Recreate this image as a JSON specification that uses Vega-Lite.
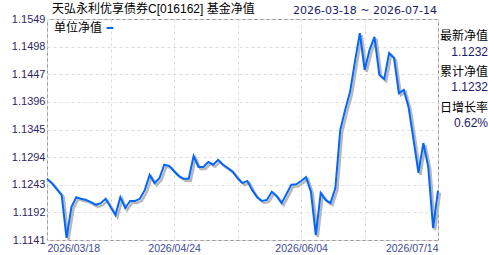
{
  "$schema": "https://vega.github.io/schema/vega-lite/v6.json",
  "background": "white",
  "padding": {"left": 10, "top": 2, "right": 1, "bottom": 0},
  "autosize": {"type": "pad"},
  "spacing": 3,
  "bounds": "flush",
  "config": {"font": "Liberation Sans", "view": {"stroke": "#999"}},
  "datasets": {
    "nav": [
      {"d": "2026/03/18", "v": 1.1254}, {"d": "2026/03/19", "v": 1.1246}, {"d": "2026/03/20", "v": 1.1235},
      {"d": "2026/03/23", "v": 1.1224}, {"d": "2026/03/24", "v": 1.1145}, {"d": "2026/03/25", "v": 1.1202},
      {"d": "2026/03/26", "v": 1.1220}, {"d": "2026/03/27", "v": 1.1217}, {"d": "2026/03/30", "v": 1.1215},
      {"d": "2026/03/31", "v": 1.1211}, {"d": "2026/04/01", "v": 1.1206}, {"d": "2026/04/02", "v": 1.1209},
      {"d": "2026/04/03", "v": 1.1217}, {"d": "2026/04/07", "v": 1.1202}, {"d": "2026/04/08", "v": 1.1187},
      {"d": "2026/04/09", "v": 1.1220}, {"d": "2026/04/10", "v": 1.1200}, {"d": "2026/04/13", "v": 1.1213},
      {"d": "2026/04/14", "v": 1.1213}, {"d": "2026/04/15", "v": 1.1217}, {"d": "2026/04/16", "v": 1.1233},
      {"d": "2026/04/17", "v": 1.1261}, {"d": "2026/04/20", "v": 1.1246}, {"d": "2026/04/21", "v": 1.1255},
      {"d": "2026/04/22", "v": 1.1280}, {"d": "2026/04/23", "v": 1.1278}, {"d": "2026/04/24", "v": 1.1268},
      {"d": "2026/04/27", "v": 1.1259}, {"d": "2026/04/28", "v": 1.1254}, {"d": "2026/04/29", "v": 1.1254},
      {"d": "2026/04/30", "v": 1.1296}, {"d": "2026/05/06", "v": 1.1276}, {"d": "2026/05/07", "v": 1.1276},
      {"d": "2026/05/08", "v": 1.1285}, {"d": "2026/05/11", "v": 1.1280}, {"d": "2026/05/12", "v": 1.1289},
      {"d": "2026/05/13", "v": 1.1280}, {"d": "2026/05/14", "v": 1.1274}, {"d": "2026/05/15", "v": 1.1267},
      {"d": "2026/05/18", "v": 1.1255}, {"d": "2026/05/19", "v": 1.1246}, {"d": "2026/05/20", "v": 1.1250},
      {"d": "2026/05/21", "v": 1.1233}, {"d": "2026/05/22", "v": 1.1220}, {"d": "2026/05/25", "v": 1.1213},
      {"d": "2026/05/26", "v": 1.1215}, {"d": "2026/05/27", "v": 1.1230}, {"d": "2026/05/28", "v": 1.1222},
      {"d": "2026/05/29", "v": 1.1209}, {"d": "2026/06/01", "v": 1.1226}, {"d": "2026/06/02", "v": 1.1243},
      {"d": "2026/06/03", "v": 1.1244}, {"d": "2026/06/04", "v": 1.1250}, {"d": "2026/06/05", "v": 1.1257},
      {"d": "2026/06/08", "v": 1.1230}, {"d": "2026/06/09", "v": 1.1150}, {"d": "2026/06/10", "v": 1.1228},
      {"d": "2026/06/11", "v": 1.1215}, {"d": "2026/06/12", "v": 1.1209}, {"d": "2026/06/15", "v": 1.1237},
      {"d": "2026/06/16", "v": 1.1344}, {"d": "2026/06/17", "v": 1.1381}, {"d": "2026/06/18", "v": 1.1414},
      {"d": "2026/06/19", "v": 1.1470}, {"d": "2026/06/22", "v": 1.1523}, {"d": "2026/06/23", "v": 1.1455},
      {"d": "2026/06/24", "v": 1.1492}, {"d": "2026/06/25", "v": 1.1516}, {"d": "2026/06/26", "v": 1.1446},
      {"d": "2026/06/29", "v": 1.1438}, {"d": "2026/06/30", "v": 1.1486}, {"d": "2026/07/01", "v": 1.1477},
      {"d": "2026/07/02", "v": 1.1412}, {"d": "2026/07/03", "v": 1.1418}, {"d": "2026/07/06", "v": 1.1385},
      {"d": "2026/07/07", "v": 1.1326}, {"d": "2026/07/08", "v": 1.1265}, {"d": "2026/07/09", "v": 1.1320},
      {"d": "2026/07/10", "v": 1.1276}, {"d": "2026/07/13", "v": 1.1163}, {"d": "2026/07/14", "v": 1.1232}
    ],
    "info": [
      {"k": "最新净值", "val": "1.1232"},
      {"k": "累计净值", "val": "1.1232"},
      {"k": "日增长率", "val": "0.62%"}
    ]
  },
  "hconcat": [
    {
      "width": 391,
      "height": 221,
      "data": {"name": "nav"},
      "title": {"text": "天弘永利优享债券C[016162] 基金净值", "anchor": "start", "frame": "group", "dx": 5, "font": "Liberation Sans, Noto Sans CJK SC", "fontSize": 12, "fontWeight": "normal", "color": "#000000", "offset": -3},
      "encoding": {
        "x": {
          "field": "d", "type": "ordinal",
          "scale": {"type": "point", "padding": 0},
          "axis": {
            "values": ["2026/03/18", "2026/04/07", "2026/04/24", "2026/05/18", "2026/06/04", "2026/06/23", "2026/07/14"],
            "labelExpr": "indexof(['2026/03/18','2026/04/24','2026/06/04','2026/07/14'], datum.value) >= 0 ? datum.value : ''",
            "labelAngle": 0, "labelFlush": true, "labelOverlap": false,
            "domain": false, "ticks": false, "grid": true, "gridColor": "#dcdcdc", "gridDash": [3, 3],
            "labelColor": "#3b4c9c", "labelFont": "Liberation Sans", "labelFontSize": 10.5, "labelPadding": 3, "title": null
          }
        },
        "y": {
          "field": "v", "type": "quantitative",
          "scale": {"domain": [1.1141, 1.1549], "nice": false, "zero": false},
          "axis": {
            "values": [1.1141, 1.1192, 1.1243, 1.1294, 1.1345, 1.1396, 1.1447, 1.1498, 1.1549],
            "format": ".4f", "domain": false, "ticks": false, "grid": true, "gridColor": "#dcdcdc", "gridDash": [3, 3],
            "labelColor": "#2e1f66", "labelFont": "Liberation Sans", "labelFontSize": 11, "labelPadding": 2, "title": null
          }
        }
      },
      "layer": [
        {"mark": {"type": "line", "color": "#b8b8b8", "strokeWidth": 2.5, "xOffset": 2, "yOffset": 2}},
        {
          "mark": {"type": "line", "strokeWidth": 2},
          "encoding": {
            "color": {
              "datum": "单位净值",
              "scale": {"range": ["#0066ff"]},
              "legend": {
                "orient": "none", "legendX": 7, "legendY": 4, "padding": 0,
                "title": "单位净值", "titleOrient": "left", "titleFont": "Noto Sans CJK SC", "titleFontSize": 12,
                "titleFontWeight": "normal", "titleColor": "#000000", "titlePadding": 2,
                "labelExpr": "''", "symbolType": "stroke", "symbolStrokeWidth": 2, "symbolSize": 45
              }
            }
          }
        }
      ]
    },
    {
      "width": 47,
      "height": {"step": 35.7},
      "data": {"name": "info"},
      "view": {"stroke": null},
      "title": {"text": "2026-03-18 ~ 2026-07-14", "anchor": "end", "frame": "group", "dx": -51, "font": "DejaVu Sans", "fontSize": 11, "fontWeight": "normal", "color": "#1a1a6e", "limit": 400, "offset": 3},
      "encoding": {
        "y": {"field": "k", "type": "nominal", "sort": null, "axis": null, "scale": {"type": "point", "padding": 0.69}},
        "x": {"value": "width"}
      },
      "layer": [
        {"mark": {"type": "text", "align": "right", "baseline": "middle", "dy": -7.5, "font": "Noto Sans CJK SC", "fontSize": 12, "color": "#000000"}, "encoding": {"text": {"field": "k"}}},
        {"mark": {"type": "text", "align": "right", "baseline": "middle", "dy": 8, "font": "Liberation Sans", "fontSize": 12, "color": "#1a1a6e"}, "encoding": {"text": {"field": "val"}}}
      ]
    }
  ]
}
